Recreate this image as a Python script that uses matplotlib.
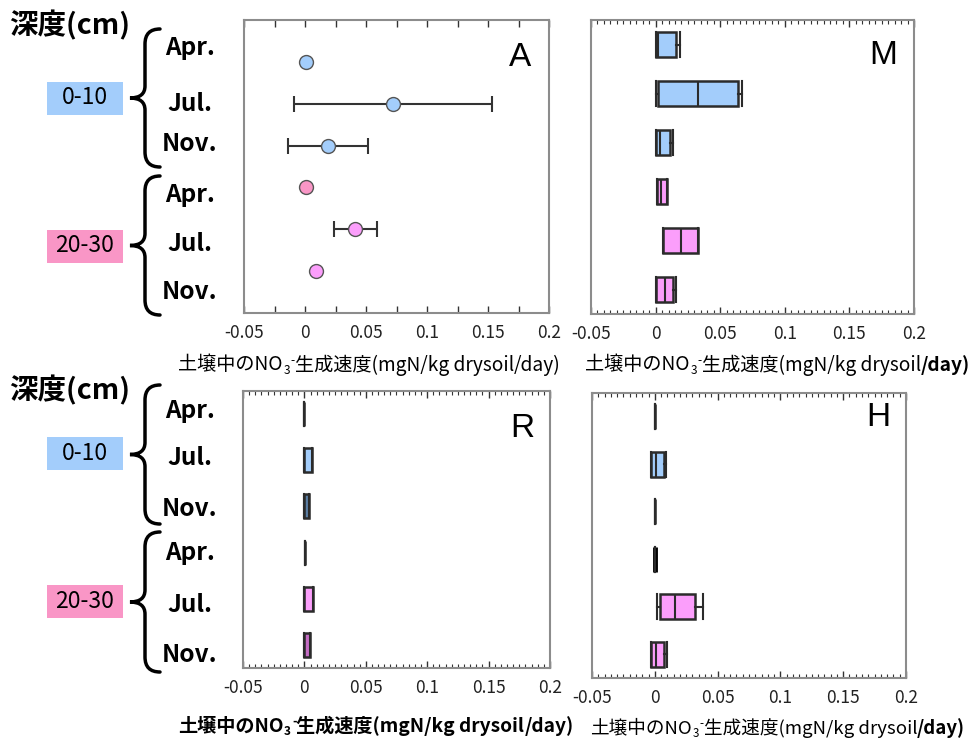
import numpy as np
import matplotlib
matplotlib.use("Agg")
import matplotlib.pyplot as plt
from matplotlib.patches import Rectangle, PathPatch
from matplotlib.path import Path

plt.rcParams["font.family"] = ["Noto Sans CJK JP", "DejaVu Sans"]

W, H = 973, 744

# rows top -> bottom: 0-10 cm (Apr, Jul, Nov), then 20-30 cm (Apr, Jul, Nov)
months = ["Apr.", "Jul.", "Nov.", "Apr.", "Jul.", "Nov."]
depths = ["0-10", "20-30"]
tick_vals = [-0.05, 0, 0.05, 0.1, 0.15, 0.2]
tick_labels = ["-0.05", "0", "0.05", "0.1", "0.15", "0.2"]

# panel A: mean with error bar ends
a_mean = [0.0005, 0.072, 0.019, 0.001, 0.041, 0.0088]
a_lo = [0.0005, -0.009, -0.0137, 0.001, 0.024, 0.0088]
a_hi = [0.0005, 0.153, 0.052, 0.001, 0.059, 0.0088]

# box panels: whisker low, q1, median, q3, whisker high
m_whislo = [0.0, 0.0, 0.0, 0.0008, 0.0056, 0.0]
m_q1 = [0.0, 0.002, 0.0, 0.0008, 0.0056, 0.0]
m_med = [0.002, 0.0326, 0.0033, 0.0044, 0.0195, 0.0072]
m_q3 = [0.0157, 0.0638, 0.011, 0.0087, 0.033, 0.0134]
m_whishi = [0.019, 0.0666, 0.0134, 0.0087, 0.033, 0.0157]

r_whislo = [0.0, 0.0, 0.0, 0.0005, 0.0, 0.0]
r_q1 = [0.0, 0.0, 0.0, 0.0005, 0.0, 0.0]
r_med = [0.0, 0.0, 0.0, 0.0005, 0.0, 0.0]
r_q3 = [0.0, 0.006, 0.0036, 0.0005, 0.0069, 0.0049]
r_whishi = [0.0, 0.006, 0.0036, 0.0005, 0.0069, 0.0049]

h_whislo = [0.0, -0.0027, 0.0, 0.0005, 0.0016, -0.0032]
h_q1 = [0.0, -0.0027, 0.0, 0.0005, 0.0042, -0.0032]
h_med = [0.0, 0.0008, 0.0, 0.0005, 0.016, 0.0008]
h_q3 = [0.0, 0.007, 0.0, 0.0005, 0.032, 0.0072]
h_whishi = [0.0, 0.0093, 0.0, 0.0005, 0.038, 0.0098]

blue = "#a3cdfb"
pink = "#f996c6"
magenta = "#fb9efb"
a_colors = [blue, blue, blue, pink, magenta, magenta]
m_colors = [blue, blue, blue, magenta, magenta, magenta]
r_colors = [blue, blue, "#5a7da3", magenta, magenta, "#c46cc4"]
h_colors = m_colors


def rect(l, t, r, b):
    return [l / W, 1 - b / H, (r - l) / W, (b - t) / H]


def fy(y):
    return 1 - y / H


def style_axis(ax, minor):
    ax.set_xlim(-0.05, 0.2)
    ax.set_xticks(tick_vals)
    ax.set_xticklabels(tick_labels, fontsize=12.5, color="#222222")
    ax.set_xticks(np.arange(-0.05, 0.2001, minor), minor=True)
    ax.set_yticks([])
    ax.tick_params(axis="x", which="both", direction="in", top=True, bottom=True,
                   pad=8, color="#333333")
    if minor < 0.02:
        ax.tick_params(axis="x", which="major", length=5, width=1)
        ax.tick_params(axis="x", which="minor", length=3, width=0.8)
    else:
        ax.tick_params(axis="x", which="both", length=5, width=1)
    for sp in ax.spines.values():
        sp.set_color("#8c8c8c")
        sp.set_linewidth(1.5)


def draw_boxes(ax, lo, q1, med, q3, hi, colors):
    stats = [dict(whislo=lo[i], q1=q1[i], med=med[i], q3=q3[i], whishi=hi[i])
             for i in range(len(med))]
    pos = np.arange(len(med))[::-1] + 0.5
    art = ax.bxp(stats, positions=pos, widths=0.52, capwidths=0.52,
                 orientation="horizontal", patch_artist=True, showfliers=False,
                 manage_ticks=False,
                 boxprops=dict(edgecolor="#2b2b2b", linewidth=1.8),
                 whiskerprops=dict(color="#2b2b2b", linewidth=1.5),
                 capprops=dict(color="#2b2b2b", linewidth=1.5),
                 medianprops=dict(color="#2b2b2b", linewidth=1.5))
    for b, c in zip(art["boxes"], colors):
        b.set_facecolor(c)
    ax.set_ylim(0, 6)
    return art


def axis_label(ax, x, y, parts, size=13.8):
    # parts: (text, weight, shift) with shift -1 subscript, +1 superscript
    first = None
    prev = None
    for s, w, sh in parts:
        fs = size * 0.62 if sh else size
        dy = {0: 0, -1: -4, 1: 3.5}[sh]
        if first is None:
            first = ax.annotate(s, xy=(x / W, fy(y)), xycoords="figure fraction",
                                ha="left", va="center", fontsize=fs, fontweight=w,
                                annotation_clip=False)
            prev = first
        else:
            prev = ax.annotate(s, xy=(1, 0.5), xycoords=(prev, first),
                               xytext=(0.5 if sh else 0, dy), textcoords="offset points",
                               ha="left", va="center", fontsize=fs, fontweight=w,
                               annotation_clip=False)


def label_parts(base_w, tail_w):
    return [("土壌中のNO", base_w, 0), ("3", base_w, -1), ("-", base_w, 1),
            ("生成速度(mgN/kg drysoil", base_w, 0), ("/day)", tail_w, 0)]


fig = plt.figure(figsize=(W / 100, H / 100), dpi=100)

axA = fig.add_axes(rect(244, 20, 549, 313))
axM = fig.add_axes(rect(591, 20, 914, 314))
axR = fig.add_axes(rect(243, 391, 550, 668))
axH = fig.add_axes(rect(592, 393, 906, 678))

# panel A: points with error bars
ypos = np.arange(6, 0, -1)
for i in range(6):
    if a_hi[i] > a_lo[i]:
        axA.errorbar(a_mean[i], ypos[i],
                     xerr=[[a_mean[i] - a_lo[i]], [a_hi[i] - a_mean[i]]],
                     fmt="none", ecolor="#333333", elinewidth=1.5,
                     capsize=5.5, capthick=1.5, zorder=2)
    axA.plot(a_mean[i], ypos[i], "o", ms=10, mfc=a_colors[i], mec="#555555",
             mew=1, zorder=3)
axA.set_ylim(0, 7)
style_axis(axA, 0.025)

draw_boxes(axM, m_whislo, m_q1, m_med, m_q3, m_whishi, m_colors)
style_axis(axM, 0.005)

artR = draw_boxes(axR, r_whislo, r_q1, r_med, r_q3, r_whishi, r_colors)
style_axis(axR, 0.005)

artH = draw_boxes(axH, h_whislo, h_q1, h_med, h_q3, h_whishi, h_colors)
artH["boxes"][3].set_linewidth(3.5)
artH["boxes"][3].set_edgecolor("black")
style_axis(axH, 0.005)

for ax, letter, (lx, ly) in [(axA, "A", (520, 58)), (axM, "M", (883, 55)),
                             (axR, "R", (522, 428)), (axH, "H", (878, 418))]:
    fig.text(lx / W, fy(ly), letter, fontsize=24, family="Liberation Sans",
             ha="center", va="center")

axis_label(axA, 178, 365, label_parts("normal", "normal"))
axis_label(axM, 585, 365, label_parts("normal", "bold"))
axis_label(axR, 178, 726, label_parts("bold", "bold"))
axis_label(axH, 590, 728, label_parts("normal", "bold"), size=13.4)


def brace(x_tip, x_end, y_top, y_bot):
    xm = x_end - 15
    yc = (y_top + y_bot) / 2
    pts = [(x_end, y_top), (xm, y_top), (xm, y_top + 15), (xm, yc - 12),
           (xm, yc), (x_tip, yc), (xm, yc), (xm, yc + 12), (xm, y_bot - 15),
           (xm, y_bot), (x_end, y_bot)]
    codes = [Path.MOVETO, Path.CURVE3, Path.CURVE3, Path.LINETO,
             Path.CURVE3, Path.CURVE3, Path.CURVE3, Path.CURVE3, Path.LINETO,
             Path.CURVE3, Path.CURVE3]
    verts = [(x / W, fy(y)) for x, y in pts]
    fig.add_artist(PathPatch(Path(verts, codes), fill=False, lw=2.5,
                             edgecolor="black", transform=fig.transFigure,
                             capstyle="round"))


# row labels on the left of each panel row
side = [
    dict(title_y=25, groups=[(29, 167), (176, 315)], box_y=[98, 246],
         month_y=[48, 104, 144, 195, 244, 292]),
    dict(title_y=390, groups=[(385, 524), (532, 672)], box_y=[453, 601],
         month_y=[411, 458, 509, 553, 605, 655]),
]
for s in side:
    fig.text(70 / W, fy(s["title_y"]), "深度(cm)", fontsize=20.5, fontweight="bold",
             ha="center", va="center")
    for (t, b) in s["groups"]:
        brace(130, 160, t, b)
    for d, by, c in zip(depths, s["box_y"], [blue, pink]):
        fig.add_artist(Rectangle((47 / W, fy(by + 16.5)), 76 / W, 33 / H,
                                 facecolor=c, edgecolor="none",
                                 transform=fig.transFigure))
        fig.text(85 / W, fy(by), d, fontsize=16.5, ha="center", va="center")
    for m, my in zip(months, s["month_y"]):
        fig.text(190 / W, fy(my), m, fontsize=17.5, fontweight="bold",
                 ha="center", va="center")

fig.savefig("out.png", dpi=100)
